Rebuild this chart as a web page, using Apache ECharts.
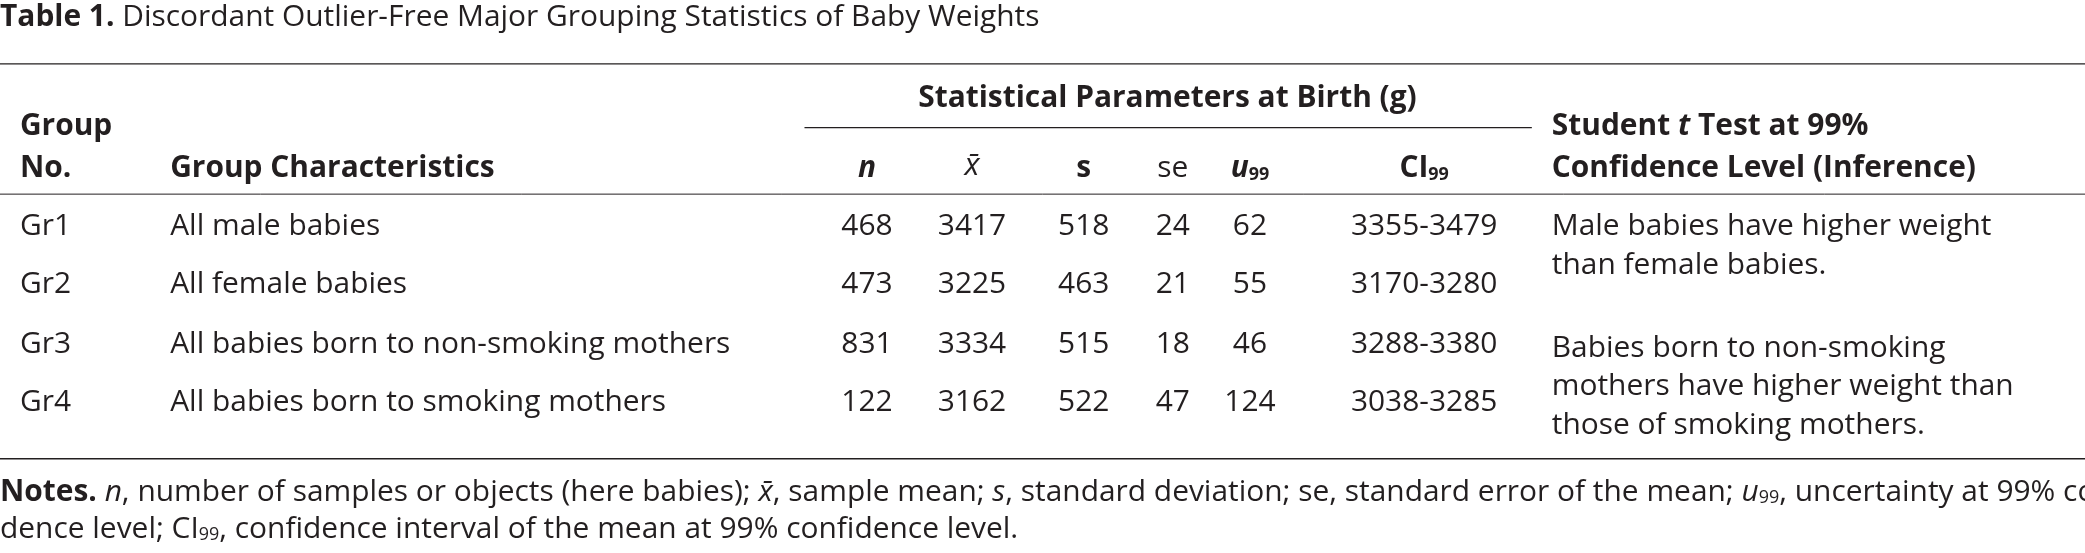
<!DOCTYPE html>
<html>
<head>
<meta charset="utf-8">
<script src="https://cdn.jsdelivr.net/npm/echarts@6/dist/echarts.min.js"></script>
<style>html,body{margin:0;background:#fff}#c{width:2085px;height:553px}</style>
</head>
<body>
<div id="c"></div>
<script>
// table data
var groups = ["Gr1", "Gr2", "Gr3", "Gr4"];
var characteristics = ["All male babies", "All female babies", "All babies born to non-smoking mothers", "All babies born to smoking mothers"];
var nVals = [468, 473, 831, 122];
var meanVals = [3417, 3225, 3334, 3162];
var sdVals = [518, 463, 515, 522];
var seVals = [24, 21, 18, 47];
var uVals = [62, 55, 46, 124];
var ciVals = ["3355-3479", "3170-3280", "3288-3380", "3038-3285"];
var inferA = ["Male babies have higher weight", "than female babies."];
var inferB = ["Babies born to non-smoking", "mothers have higher weight than", "those of smoking mothers."];

var S = 2085 / 1568;
var FONT = "Open Sans";
var FS = 22.5 * S;
var COL = "#231f20";
var g = [];

function txt(x, y, t, opt) {
  opt = opt || {};
  g.push({
    type: "text", x: x * S, y: y * S,
    style: {
      text: t, fill: COL, font: (opt.bold ? "bold " : "") + (opt.italic ? "italic " : "") + (opt.size || FS) + "px " + FONT,
      textAlign: opt.align || "left", textVerticalAlign: "middle", rich: opt.rich
    }
  });
}
function rule(x1, x2, y, w) {
  g.push({ type: "line", shape: { x1: x1 * S, y1: y * S, x2: x2 * S, y2: y * S }, style: { stroke: COL, lineWidth: w || 1.3 } });
}

txt(0, 13, "{b|Table 1.} Discordant Outlier-Free Major Grouping Statistics of Baby Weights",
  { rich: { b: { fontWeight: "bold", fontSize: FS, fontFamily: FONT, fill: COL } } });
rule(0, 1568, 48);
txt(878, 74, "Statistical Parameters at Birth (g)", { bold: true, align: "center" });
rule(605, 1152, 96);
txt(15, 95, "Group", { bold: true });
txt(15, 127, "No.", { bold: true });
txt(128, 127, "Group Characteristics", { bold: true });
var colX = [652, 731, 815, 882, 940, 1071];
txt(colX[0], 127, "n", { bold: true, italic: true, align: "center" });
txt(colX[1], 125, "x̄", { italic: true, align: "center", size: FS * 1.05 });
txt(colX[2], 127, "s", { bold: true, align: "center" });
txt(colX[3], 127, "se", { align: "center" });
txt(colX[4], 127, "{u|u}{s|99}", { align: "center",
  rich: { u: { fontWeight: "bold", fontStyle: "italic", fontSize: FS, fontFamily: FONT, fill: COL },
          s: { fontWeight: "bold", fontSize: FS * 0.6, fontFamily: FONT, fill: COL, padding: [12, 0, 0, 0] } } });
txt(colX[5], 127, "{u|CI}{s|99}", { align: "center",
  rich: { u: { fontWeight: "bold", fontSize: FS, fontFamily: FONT, fill: COL },
          s: { fontWeight: "bold", fontSize: FS * 0.6, fontFamily: FONT, fill: COL, padding: [12, 0, 0, 0] } } });
txt(1167, 95, "Student {i|t} Test at 99%", { bold: true,
  rich: { i: { fontWeight: "bold", fontStyle: "italic", fontSize: FS, fontFamily: FONT, fill: COL } } });
txt(1167, 127, "Confidence Level (Inference)", { bold: true });
rule(0, 1568, 146, 1);

var rowY = [170, 214, 259, 303];
for (var i = 0; i < groups.length; i++) {
  var y = rowY[i];
  txt(15, y, groups[i]);
  txt(128, y, characteristics[i]);
  var vals = [nVals[i], meanVals[i], sdVals[i], seVals[i], uVals[i], ciVals[i]];
  for (var j = 0; j < vals.length; j++) txt(colX[j], y, String(vals[j]), { align: "center" });
}
inferA.forEach(function (t, k) { txt(1167, 170 + k * 30, t); });
inferB.forEach(function (t, k) { txt(1167, 262 + k * 29, t); });
rule(0, 1568, 345);

var r = {
  b: { fontWeight: "bold", fontSize: FS, fontFamily: FONT, fill: COL },
  i: { fontStyle: "italic", fontSize: FS, fontFamily: FONT, fill: COL },
  s: { fontSize: FS * 0.6, fontFamily: FONT, fill: COL, padding: [12, 0, 0, 0] },
  si: { fontStyle: "italic", fontSize: FS * 0.6, fontFamily: FONT, fill: COL, padding: [12, 0, 0, 0] }
};
txt(0, 370, "{b|Notes.} {i|n}, number of samples or objects (here babies); {i|x̄}, sample mean; {i|s}, standard deviation; se, standard error of the mean; {i|u}{s|99}, uncertainty at 99% confi-", { rich: r });
txt(0, 398, "dence level; CI{s|99}, confidence interval of the mean at 99% confidence level.", { rich: r });

var chart = echarts.init(document.getElementById("c"));
chart.setOption({ animation: false, graphic: g });
</script>
</body>
</html>
